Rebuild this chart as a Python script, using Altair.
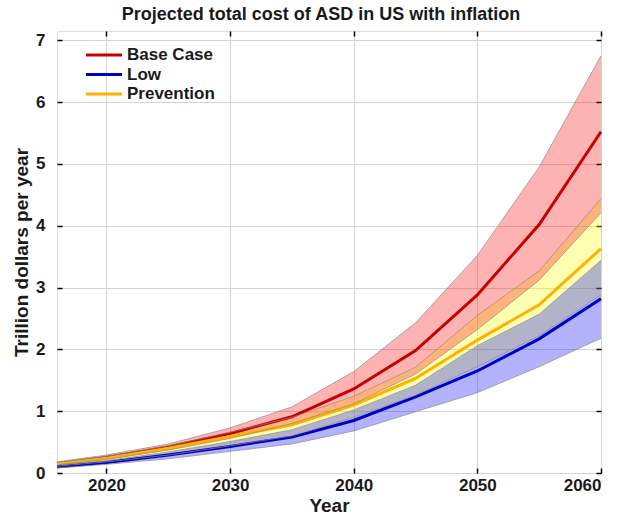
import altair as alt
import pandas as pd

# Projection years (5-year steps) and estimated costs, trillion dollars per year
years = [2016, 2020, 2025, 2030, 2035, 2040, 2045, 2050, 2055, 2060]

base_mid = [0.15, 0.25, 0.42, 0.64, 0.91, 1.36, 1.98, 2.88, 4.02, 5.52]
base_hi = [0.18, 0.29, 0.47, 0.73, 1.07, 1.64, 2.43, 3.52, 4.95, 6.75]
base_lo = [0.13, 0.22, 0.37, 0.56, 0.80, 1.12, 1.60, 2.32, 3.12, 4.21]

prev_mid = [0.15, 0.24, 0.40, 0.59, 0.78, 1.10, 1.53, 2.15, 2.72, 3.63]
prev_hi = [0.17, 0.27, 0.44, 0.66, 0.90, 1.24, 1.71, 2.55, 3.27, 4.44]
prev_lo = [0.11, 0.18, 0.29, 0.44, 0.60, 0.90, 1.26, 1.72, 2.22, 2.88]

low_mid = [0.10, 0.17, 0.29, 0.43, 0.58, 0.85, 1.23, 1.65, 2.17, 2.82]
low_hi = [0.13, 0.20, 0.34, 0.51, 0.70, 1.02, 1.42, 2.06, 2.57, 3.44]
low_lo = [0.08, 0.14, 0.23, 0.35, 0.47, 0.68, 0.99, 1.30, 1.72, 2.18]

series_names = ["Base Case", "Low", "Prevention"]
line_colors = ["#c40000", "#0000c0", "#ffb000"]
band_colors = {"Base Case": "#ff0000", "Low": "#0000ff", "Prevention": "#ffff00"}

y_ticks = [0, 1, 2, 3, 4, 5, 6, 7]
x_ticks = [2020, 2030, 2040, 2050, 2060]

FONT = "Liberation Sans"

rows = []
for name, mid, lo, hi in [
    ("Base Case", base_mid, base_lo, base_hi),
    ("Low", low_mid, low_lo, low_hi),
    ("Prevention", prev_mid, prev_lo, prev_hi),
]:
    for yr, m, l, h in zip(years, mid, lo, hi):
        rows.append({"year": yr, "series": name, "mid": m, "lo": l, "hi": h})
df = pd.DataFrame(rows)

# band outlines as separate thin lines
edges = []
for r in rows:
    edges.append({"year": r["year"], "edge": r["series"] + " lo", "v": r["lo"]})
    edges.append({"year": r["year"], "edge": r["series"] + " hi", "v": r["hi"]})
edf = pd.DataFrame(edges)

x_scale = alt.Scale(domain=[2016, 2060], nice=False, zero=False)
y_scale = alt.Scale(domain=[0, 7.15], nice=False)

x_axis = alt.Axis(
    values=x_ticks, format="d", title="Year", orient="bottom", offset=-5,
    tickSize=5, tickWidth=1.5, tickColor="black", domain=False,
    grid=True, gridColor="#d4d4d4", gridWidth=1,
    labelFont=FONT, labelFontSize=17, labelFontWeight="bold", labelColor="#1a1a1a",
    labelPadding=4, titleFont=FONT, titleFontSize=19, titleFontWeight="bold",
    titleColor="#1a1a1a", titlePadding=3,
)
y_axis = alt.Axis(
    values=y_ticks, format="d", title="Trillion dollars per year", orient="left",
    offset=-5, tickSize=5, tickWidth=1.5, tickColor="black", domain=False,
    grid=True, gridColor="#d4d4d4", gridWidth=1,
    labelFont=FONT, labelFontSize=17, labelFontWeight="bold", labelColor="#1a1a1a",
    labelPadding=12, titleFont=FONT, titleFontSize=19, titleFontWeight="bold",
    titleColor="#1a1a1a", titlePadding=4,
)


def band(name):
    return alt.Chart(df).transform_filter(
        alt.datum.series == name
    ).mark_area(color=band_colors[name], opacity=0.3).encode(
        x=alt.X("year:Q", scale=x_scale, axis=x_axis),
        y=alt.Y("lo:Q", scale=y_scale, axis=y_axis),
        y2="hi:Q",
    )


lines = alt.Chart(df).mark_line(strokeWidth=3).encode(
    x=alt.X("year:Q", scale=x_scale),
    y=alt.Y("mid:Q", scale=y_scale),
    color=alt.Color(
        "series:N",
        scale=alt.Scale(domain=series_names, range=line_colors),
        legend=alt.Legend(
            title=None, orient="none", legendX=27, legendY=16,
            symbolType="stroke", symbolSize=1300, symbolStrokeWidth=3,
            clipHeight=16, rowPadding=2.5,
            labelFont=FONT, labelFontSize=17, labelFontWeight="bold",
            labelColor="#1a1a1a", labelOffset=3, padding=0,
        ),
    ),
    order=alt.Order("series:N"),
)

main = alt.layer(band("Prevention"), band("Base Case"), band("Low"), lines)

edge_lines = alt.Chart(edf).mark_line(strokeWidth=0.7, color="#8c8c8c").encode(
    x=alt.X("year:Q", scale=x_scale, axis=alt.Axis(
        values=x_ticks, orient="top", offset=-5, tickSize=5, tickWidth=1.5,
        tickColor="black", domain=False, grid=False, labels=False, title=None)),
    y=alt.Y("v:Q", scale=y_scale, axis=alt.Axis(
        values=y_ticks, orient="right", offset=-5, tickSize=5, tickWidth=1.5,
        tickColor="black", domain=False, grid=False, labels=False, title=None)),
    detail="edge:N",
)

chart = alt.layer(main, edge_lines).resolve_scale(
    x="independent", y="independent"
).properties(
    width=544,
    height=442,
    title=alt.TitleParams(
        "Projected total cost of ASD in US with inflation",
        font=FONT, fontSize=18, fontWeight="bold", color="#1a1a1a",
        anchor="middle", offset=6, dx=-8,
    ),
    autosize=alt.AutoSizeParams(type="none"),
    padding={"left": 57, "top": 31, "right": 30, "bottom": 43},
).configure_view(
    stroke="black", strokeWidth=1.5
).configure(background="white")

chart.save("out.html", embed_options={"renderer": "svg", "actions": False})
